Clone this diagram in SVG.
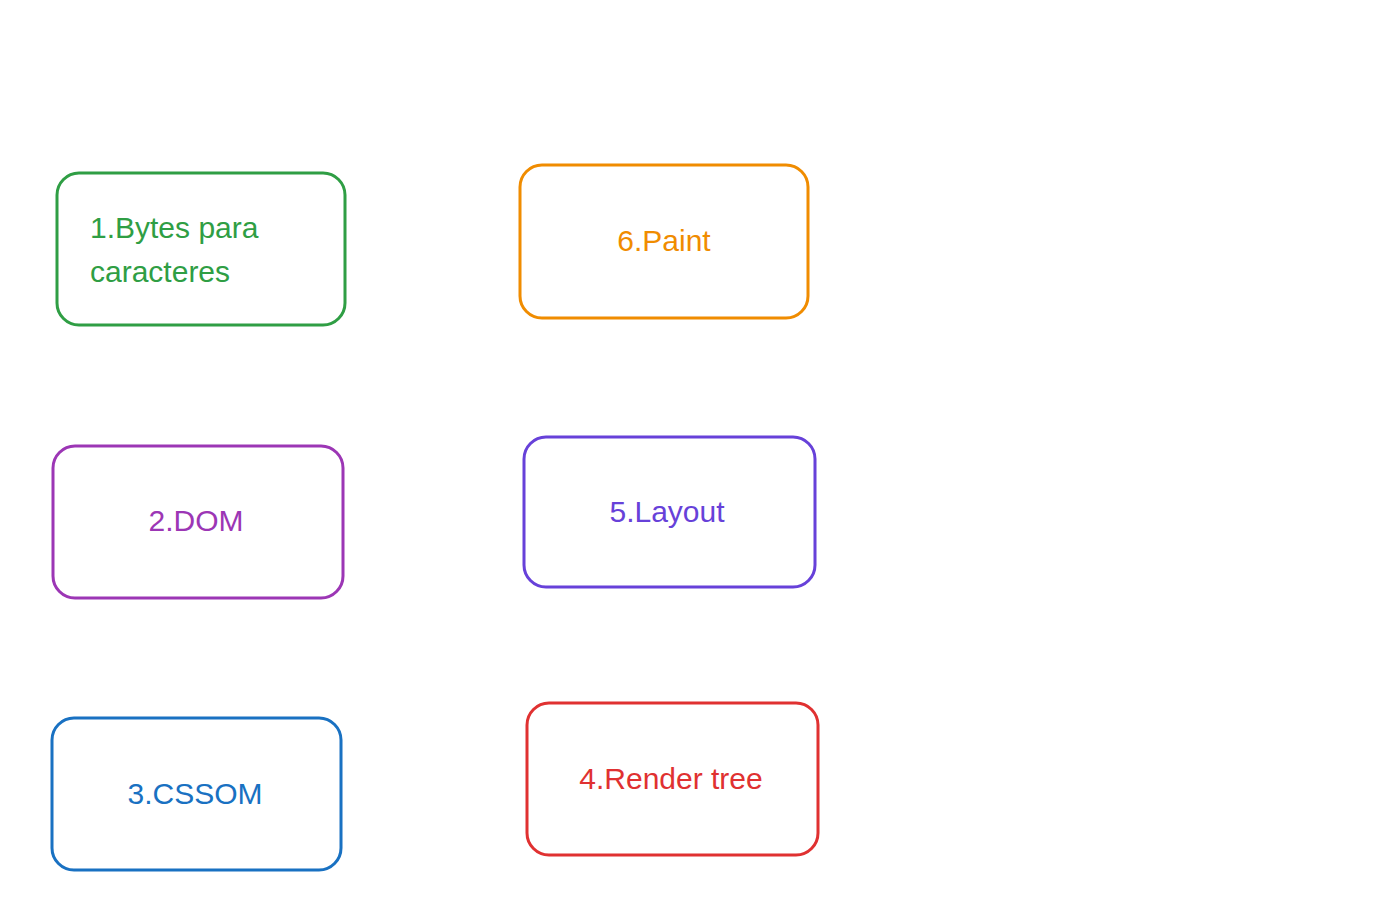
<svg xmlns="http://www.w3.org/2000/svg" width="1397" height="922" viewBox="0 0 1397 922">
<style>
.b{fill:none;stroke-width:3;stroke-linejoin:round}
.t{font-family:"Liberation Sans",Arial,sans-serif;font-size:30px}
.c{text-anchor:middle}
</style>
<rect width="1397" height="922" fill="#fff"/>
<g id="n1"><rect class="b" x="57" y="173" width="288" height="152" rx="22" stroke="#2f9e44"/><text class="t" x="90" y="238" fill="#2f9e44">1.Bytes para</text><text class="t" x="90" y="282" fill="#2f9e44">caracteres</text></g>
<g id="n6"><rect class="b" x="520" y="165" width="288" height="153" rx="22" stroke="#f08c00"/><text class="t c" x="664" y="251" fill="#f08c00">6.Paint</text></g>
<g id="n2"><rect class="b" x="53" y="446" width="290" height="152" rx="22" stroke="#9c36b5"/><text class="t c" x="196" y="531" fill="#9c36b5">2.DOM</text></g>
<g id="n5"><rect class="b" x="524" y="437" width="291" height="150" rx="22" stroke="#6741d9"/><text class="t c" x="667" y="522" fill="#6741d9">5.Layout</text></g>
<g id="n3"><rect class="b" x="52" y="718" width="289" height="152" rx="22" stroke="#1971c2"/><text class="t c" x="195" y="804" fill="#1971c2">3.CSSOM</text></g>
<g id="n4"><rect class="b" x="527" y="703" width="291" height="152" rx="22" stroke="#e03131"/><text class="t c" x="671" y="789" fill="#e03131">4.Render tree</text></g>
<g id="connectors"/>
</svg>
